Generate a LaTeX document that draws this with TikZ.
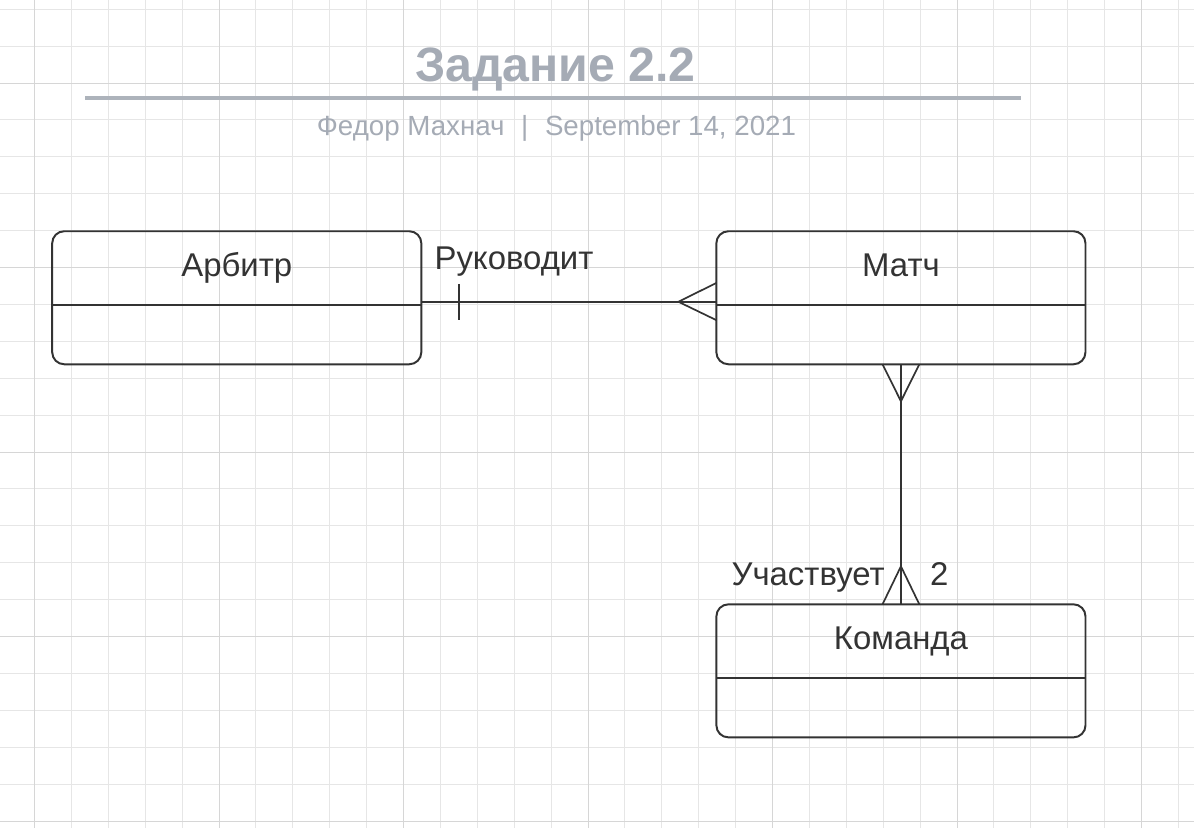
\documentclass[tikz,border=0pt]{standalone}
\usepackage{fontspec}
\setmainfont{Liberation Sans}
\usepackage{xcolor}
\usetikzlibrary{positioning}

\definecolor{ink}{HTML}{333333}
\definecolor{headgrey}{HTML}{A5ABB5}
\definecolor{rulegrey}{HTML}{ADB3BB}
\definecolor{gridminor}{HTML}{E6E6E6}
\definecolor{gridmajor}{HTML}{D6D6D6}

\tikzset{
	entity/.style={draw=ink, line width=1.4pt, rounded corners=0.3cm, minimum width=9.225cm, minimum height=3.325cm, inner sep=0pt, outer sep=0pt},
	etitle/.style={text=ink, font=\fontsize{23.4}{28}\selectfont, inner sep=0pt},
	rlabel/.style={text=ink, font=\fontsize{23.4}{28}\selectfont, inner sep=0pt},
	eline/.style={draw=ink, line width=1.3pt},
	rel/.style={draw=ink, line width=1.2pt},
}

\begin{document}
\begin{tikzpicture}[x=0.025cm, y=-0.025cm]
		\useasboundingbox (0,0) rectangle (1194,828);
		\fill[white] (0,0) rectangle (1194,828);
		
		% grid
		\foreach \k in {0,...,31}
			\draw[gridminor, line width=0.6pt] (34.5+36.9*\k,0) -- (34.5+36.9*\k,828);
		\foreach \k in {0,...,22}
			\draw[gridminor, line width=0.6pt] (0,9.2+36.9*\k) -- (1194,9.2+36.9*\k);
		\foreach \k in {0,5,...,30}
			\draw[gridmajor, line width=0.6pt] (34.5+36.9*\k,0) -- (34.5+36.9*\k,828);
		\foreach \k in {2,7,...,22}
			\draw[gridmajor, line width=0.6pt] (0,9.2+36.9*\k) -- (1194,9.2+36.9*\k);
		
		% header
		\node[anchor=base, inner sep=0pt, text=headgrey, font=\fontsize{34.3}{40}\selectfont\bfseries] (title) at (555.5,82) {Задание 2.2};
		\draw[rulegrey, line width=2.8pt] (85,98) -- (1021,98);
		\node[anchor=base, inner sep=0pt, text=headgrey, font=\fontsize{19.7}{24}\selectfont] (subtitle) at (556.5,135) {Федор Махнач\hspace{0.6em}|\hspace{0.6em}September 14, 2021};
		
		% entities
		\node[entity] (arbitr) at (236.75,297.75) {};
		\node[entity, right=7.375cm of arbitr] (match) {};
		\node[entity, below=6cm of match] (team) {};
		
		\node[etitle, anchor=base] (arbitr-t) at ([yshift=-1.125cm]arbitr.north) {Арбитр};
		\node[etitle, anchor=base] (match-t) at ([yshift=-1.125cm]match.north) {Матч};
		\node[etitle, anchor=base] (team-t) at ([yshift=-1.125cm]team.north) {Команда};
		
		\draw[eline] ([yshift=-1.85cm]arbitr.north west) -- ([yshift=-1.85cm]arbitr.north east);
		\draw[eline] ([yshift=-1.85cm]match.north west) -- ([yshift=-1.85cm]match.north east);
		\draw[eline] ([yshift=-1.85cm]team.north west) -- ([yshift=-1.85cm]team.north east);
		
		% arbitr -- match
		\coordinate (ra) at ([yshift=-0.1cm]arbitr.east);
		\coordinate (rm) at ([yshift=-0.1cm]match.west);
		\draw[rel] (ra) -- (rm);
		\draw[rel] ([xshift=0.95cm, yshift=0.45cm]ra) -- ([xshift=0.95cm, yshift=-0.45cm]ra);
		\draw[rel] ([yshift=0.47cm]rm) -- ([xshift=-0.95cm]rm) -- ([yshift=-0.46cm]rm);
		\node[rlabel, anchor=base west] (lead) at ([xshift=0.325cm, yshift=0.8cm]ra) {Руководит};
		
		% match -- team
		\draw[rel] (match.south) -- (team.north);
		\draw[rel] ([xshift=-0.46cm]match.south) -- ([yshift=-0.925cm]match.south) -- ([xshift=0.46cm]match.south);
		\draw[rel] ([xshift=-0.46cm]team.north) -- ([yshift=0.95cm]team.north) -- ([xshift=0.46cm]team.north);
		\node[rlabel, anchor=base east] (play) at ([xshift=-0.4cm, yshift=0.475cm]team.north) {Участвует};
		\node[rlabel, anchor=base west] (two) at ([xshift=0.725cm, yshift=0.475cm]team.north) {2};
	\end{tikzpicture}
\end{document}
